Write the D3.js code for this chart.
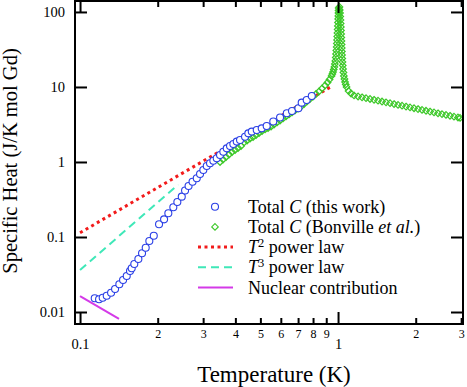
<!DOCTYPE html>
<html lang="en">
<head>
<meta charset="utf-8">
<title>Specific heat</title>
<script src="https://d3js.org/d3.v7.min.js"></script>
<style>
body { margin: 0; background: #fff; }
svg text { font-family: "Liberation Serif", "DejaVu Serif", serif; fill: #000; }
.frame { fill: none; stroke: #000; stroke-width: 2; }
.tick line { stroke: #000; stroke-width: 2; }
</style>
</head>
<body>
<div id="chart"></div>
<script>

// total C, this work
var blueT = [0.114, 0.1185, 0.1224, 0.1269, 0.1319, 0.1367, 0.142, 0.1468, 0.1517, 0.1562,
    0.1586, 0.1623, 0.1683, 0.1739, 0.1797, 0.1856, 0.1931, 0.2024, 0.2117, 0.2199,
    0.2299, 0.2383, 0.2479, 0.2553, 0.2634, 0.2729, 0.2834, 0.2918, 0.3005, 0.3098,
    0.319, 0.3286, 0.3387, 0.3488, 0.3592, 0.3703, 0.3814, 0.3928, 0.4049, 0.417,
    0.436, 0.449, 0.463, 0.484, 0.506, 0.529, 0.561, 0.596, 0.633, 0.663,
    0.702, 0.723, 0.756, 0.791];
var blueC = [0.01524, 0.01476, 0.01551, 0.0165, 0.0181, 0.0203, 0.0234, 0.0267, 0.0302, 0.0352,
    0.0383, 0.0437, 0.0509, 0.0607, 0.072, 0.0885, 0.104, 0.1477, 0.172, 0.207,
    0.249, 0.293, 0.345, 0.417, 0.479, 0.546, 0.606, 0.692, 0.782, 0.885,
    0.961, 1.04, 1.12, 1.24, 1.37, 1.52, 1.63, 1.74, 1.87, 1.96,
    2.17, 2.41, 2.54, 2.67, 2.81, 3.02, 3.47, 3.92, 4.46, 4.79,
    5.2, 6.18, 6.71, 7.59];

// total C, Bonville et al.
var greenT = [0.3488, 0.3583, 0.368, 0.378, 0.3883, 0.3989, 0.4097, 0.4207, 0.4322, 0.444,
    0.456, 0.4684, 0.4811, 0.4941, 0.5075, 0.5213, 0.5354, 0.5499, 0.5648, 0.5802,
    0.5959, 0.6121, 0.6286, 0.6458, 0.6633, 0.6813, 0.6998, 0.7188, 0.7383, 0.7583,
    0.779, 0.8, 0.8217, 0.8441, 0.867, 0.8906, 0.9107, 0.9271,
    0.9436, 0.9504, 0.9564, 0.9623, 0.9676, 0.9718, 0.9761, 0.9797, 0.9822, 0.9849,
    0.9876, 0.9893, 0.9911, 0.9929, 0.9947, 0.9964, 0.9982, 0.9996, 1.001, 1.0023,
    1.0037, 1.0045, 1.0054,
    1.0126, 1.0153, 1.018, 1.0198, 1.0217, 1.0235, 1.0254, 1.0266, 1.028, 1.0294,
    1.0309, 1.0323, 1.0335, 1.0349, 1.0363, 1.0382, 1.0401, 1.0428, 1.0457, 1.0493,
    1.0532, 1.0588, 1.0645, 1.071, 1.0788, 1.0983, 1.1231, 1.1535,
    1.1958, 1.2388, 1.2838, 1.3305, 1.3788, 1.4289, 1.4808, 1.5346, 1.5907, 1.6485,
    1.7083, 1.7703, 1.8346, 1.9012, 1.9702, 2.0418, 2.1159, 2.1927, 2.2724, 2.3549,
    2.4404, 2.529, 2.6208, 2.716, 2.8146, 2.9168, 2.971];
var greenC = [1.0, 1.08, 1.166, 1.259, 1.359, 1.445, 1.537, 1.634, 1.82, 1.935,
    2.057, 2.154, 2.291, 2.436, 2.59, 2.713, 2.84, 2.974, 3.162, 3.363,
    3.575, 3.802, 4.044, 4.299, 4.571, 4.861, 5.168, 5.495, 5.933, 6.408,
    6.918, 7.469, 8.067, 8.71, 9.55, 10.47, 11.48, 12.59,
    14.02, 14.91, 15.85, 17.12, 18.48, 20.26, 22.22, 24.74, 27.54, 30.67,
    34.15, 38.02, 42.34, 47.13, 52.48, 58.45, 65.07, 72.44, 80.67, 88.41,
    96.98, 104.7, 113.0,
    116.6, 106.3, 96.98, 87.1, 78.2, 70.27, 63.1, 56.66, 50.9, 45.71,
    41.06, 36.87, 33.11, 29.74, 26.71, 23.99, 21.54, 19.35, 17.38, 15.61,
    14.02, 12.78, 11.66, 10.8, 10.0, 8.846, 8.19, 7.703,
    7.469, 7.279, 7.096, 6.914, 6.738, 6.567, 6.4, 6.237, 6.078, 5.923,
    5.772, 5.626, 5.482, 5.343, 5.207, 5.074, 4.945, 4.819, 4.696, 4.577,
    4.46, 4.346, 4.236, 4.128, 4.023, 3.92, 3.861];

// power laws and nuclear term (end points)
var t2T = [0.1, 0.945], t2C = [0.114, 10.2];
var t3T = [0.1, 0.24], t3C = [0.0363, 0.5];
var nucT = [0.1, 0.1416], nucC = [0.0163, 0.0081];

var xMajor = [0.1, 1];
var xMajorLabels = ["0.1", "1"];
var xMinor = [0.2, 0.3, 0.4, 0.5, 0.6, 0.7, 0.8, 0.9, 2, 3];
var xMinorLabels = ["2", "3", "4", "5", "6", "7", "8", "9", "2", "3"];
var yTicks = [0.01, 0.1, 1, 10, 100];
var yLabels = ["0.01", "0.1", "1", "10", "100"];

var legendParts = [
    [["Total ", ""], ["C", "i"], [" (this work)", ""]],
    [["Total ", ""], ["C", "i"], [" (Bonville ", ""], ["et al.", "i"], [")", ""]],
    [["T", "i"], ["2", "sup"], [" power law", ""]],
    [["T", "i"], ["3", "sup"], [" power law", ""]],
    [["Nuclear contribution", ""]]
];

var width = 467, height = 387;

var svg = d3.select("#chart").append("svg")
    .attr("width", width)
    .attr("height", height);

var x = d3.scaleLog().domain([0.0956, 3.05]).range([75, 463]);
var y = d3.scaleLog().domain([0.00692, 140]).range([324, 1]);

var blue = "#2a3fe6", green = "#3cc828", red = "#f21b1b", cyan = "#3fe8b8", magenta = "#d43ae8";

function zip(a, b) { return a.map(function(d, i) { return [d, b[i]]; }); }

var line = d3.line()
    .x(function(d) { return x(d[0]); })
    .y(function(d) { return y(d[1]); });

var lines = [
    {data: zip(t2T, t2C), color: red, width: 3, dash: "3,3.5"},
    {data: zip(t3T, t3C), color: cyan, width: 2, dash: "8,5"},
    {data: zip(nucT, nucC), color: magenta, width: 2, dash: null}
];

svg.append("g").selectAll("path")
    .data(lines)
    .enter().append("path")
        .attr("d", function(d) { return line(d.data); })
        .attr("fill", "none")
        .attr("stroke", function(d) { return d.color; })
        .attr("stroke-width", function(d) { return d.width; })
        .attr("stroke-dasharray", function(d) { return d.dash; });

var diamond = "M0,-3.3L3.3,0L0,3.3L-3.3,0Z";

svg.append("g").selectAll("path")
    .data(zip(greenT, greenC))
    .enter().append("path")
        .attr("d", diamond)
        .attr("transform", function(d) { return "translate(" + x(d[0]) + "," + y(d[1]) + ")"; })
        .attr("fill", "none")
        .attr("stroke", green)
        .attr("stroke-width", 1.2);

svg.append("g").selectAll("circle")
    .data(zip(blueT, blueC))
    .enter().append("circle")
        .attr("cx", function(d) { return x(d[0]); })
        .attr("cy", function(d) { return y(d[1]); })
        .attr("r", 3.5)
        .attr("fill", "#fff")
        .attr("stroke", blue)
        .attr("stroke-width", 1.1);

// axes, ticks pointing inward
function noDomain(g) { g.select(".domain").remove(); }

svg.append("g")
    .attr("transform", "translate(0,324)")
    .call(d3.axisBottom(x).tickValues(xMinor).tickSizeInner(-6).tickSizeOuter(0)
        .tickPadding(5).tickFormat(function(d, i) { return xMinorLabels[i]; }))
    .call(noDomain)
    .selectAll("text").style("font-size", "12px").style("font-family", null);

svg.append("g")
    .attr("transform", "translate(0,324)")
    .call(d3.axisBottom(x).tickValues(xMajor).tickSizeInner(-12).tickSizeOuter(0)
        .tickPadding(15).tickFormat(function(d, i) { return xMajorLabels[i]; }))
    .call(noDomain)
    .selectAll("text").style("font-size", "14.5px").style("font-family", null);

svg.append("g")
    .attr("transform", "translate(0,1)")
    .call(d3.axisTop(x).tickValues(xMinor).tickSizeInner(-6).tickSizeOuter(0).tickFormat(""))
    .call(noDomain);

svg.append("g")
    .attr("transform", "translate(0,1)")
    .call(d3.axisTop(x).tickValues(xMajor).tickSizeInner(-12).tickSizeOuter(0).tickFormat(""))
    .call(noDomain);

svg.append("g")
    .attr("transform", "translate(75,0)")
    .call(d3.axisLeft(y).tickValues(yTicks).tickSizeInner(-12).tickSizeOuter(0)
        .tickPadding(10).tickFormat(function(d, i) { return yLabels[i]; }))
    .call(noDomain)
    .selectAll("text").style("font-size", "14.5px").style("font-family", null);

svg.append("g")
    .attr("transform", "translate(463,0)")
    .call(d3.axisRight(y).tickValues(yTicks).tickSizeInner(-12).tickSizeOuter(0).tickFormat(""))
    .call(noDomain);

svg.selectAll(".tick line").attr("stroke-width", 2);

svg.append("rect")
    .attr("class", "frame")
    .attr("x", 75).attr("y", 1)
    .attr("width", 388).attr("height", 323);

svg.append("text")
    .attr("x", 274).attr("y", 382)
    .attr("text-anchor", "middle")
    .style("font-size", "23px")
    .text("Temperature (K)");

svg.append("text")
    .attr("transform", "translate(17,161) rotate(-90)")
    .attr("text-anchor", "middle")
    .style("font-size", "20.5px")
    .text("Specific Heat (J/K mol Gd)");

// legend
var legendY0 = 206.7, legendStep = 20.2;
var legend = svg.append("g");

legendParts.forEach(function(parts, i) {
    var ly = legendY0 + i * legendStep;
    if (i == 0) {
        legend.append("circle").attr("cx", 215).attr("cy", ly).attr("r", 3.5)
            .attr("fill", "#fff").attr("stroke", blue).attr("stroke-width", 1.1);
    } else if (i == 1) {
        legend.append("path").attr("d", diamond).attr("transform", "translate(215," + ly + ")")
            .attr("fill", "none").attr("stroke", green).attr("stroke-width", 1.1);
    } else {
        var l = lines[i - 2];
        legend.append("line")
            .attr("x1", 198).attr("x2", 233).attr("y1", ly).attr("y2", ly)
            .attr("stroke", l.color)
            .attr("stroke-width", l.width)
            .attr("stroke-dasharray", l.dash);
    }
    var text = legend.append("text")
        .attr("x", 248).attr("y", ly + 6)
        .style("font-size", "18px");
    var raised = false;
    parts.forEach(function(p) {
        var ts = text.append("tspan").text(p[0]);
        if (p[1] == "i") ts.style("font-style", "italic");
        if (p[1] == "sup") {
            ts.attr("dy", -6.5).style("font-size", "12.5px");
            raised = true;
        } else if (raised) {
            ts.attr("dy", 6.5);
            raised = false;
        }
    });
});

</script>
</body>
</html>
